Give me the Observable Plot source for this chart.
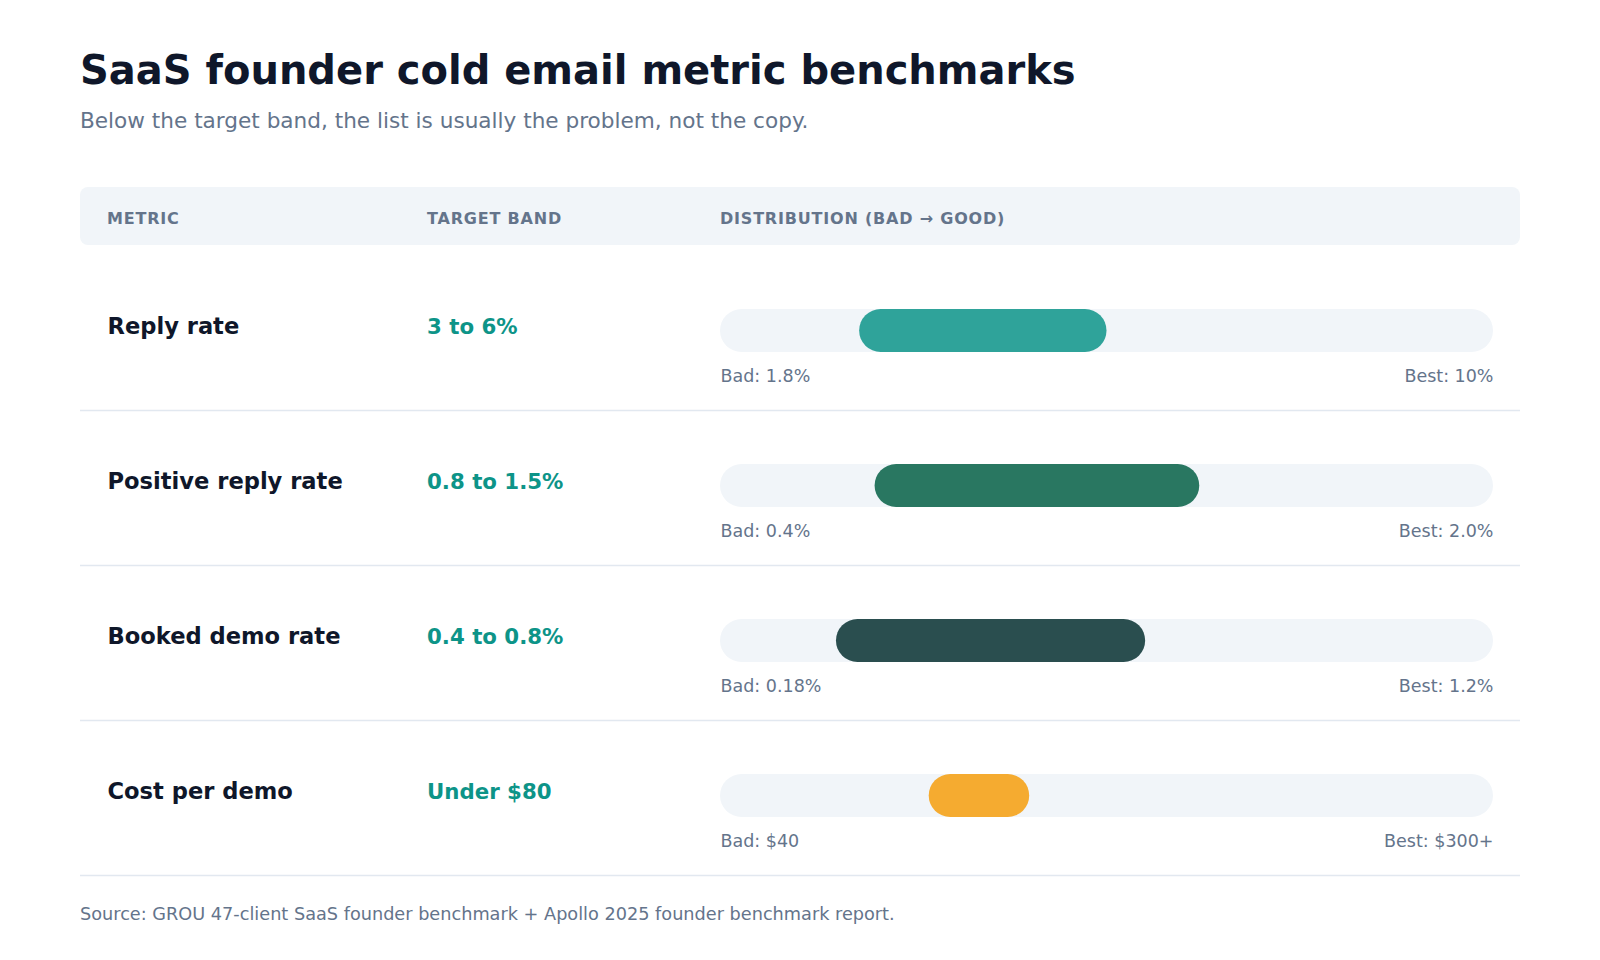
<!DOCTYPE html>
<html>
<head>
<meta charset="utf-8">
<script src="https://cdn.jsdelivr.net/npm/d3@7"></script>
<script src="https://cdn.jsdelivr.net/npm/@observablehq/plot@0.6"></script>
<style>
  html, body { margin: 0; padding: 0; background: #ffffff; }
  body { position: relative; width: 1600px; height: 960px; font-family: "DejaVu Sans", sans-serif; overflow: hidden; }
  .abs { position: absolute; line-height: 1; white-space: nowrap; }
  #title { left: 80px; top: 49.5px; font-size: 40px; font-weight: bold; color: #0f172a; }
  #subtitle { left: 80px; top: 110px; font-size: 21.6px; color: #64748b; }
  #header { position: absolute; left: 80px; top: 187px; width: 1440px; height: 58px; background: #f1f5f9; border-radius: 8px; }
  .hlabel { position: absolute; top: 23.5px; font-size: 16px; font-weight: bold; color: #64748b; letter-spacing: 0.8px; line-height: 1; white-space: nowrap; }
  #chart { position: absolute; left: 0; top: 255px; }
  #caption { left: 80px; top: 906px; font-size: 17.7px; color: #64748b; }
</style>
</head>
<body>
<div id="title" class="abs"></div>
<div id="subtitle" class="abs"></div>
<div id="header"></div>
<div id="chart"></div>
<div id="caption" class="abs"></div>
<script>
// ---- Data ----
const titleText = "SaaS founder cold email metric benchmarks";
const subtitleText = "Below the target band, the list is usually the problem, not the copy.";
const captionText = "Source: GROU 47-client SaaS founder benchmark + Apollo 2025 founder benchmark report.";
const headers = ["METRIC", "TARGET BAND", "DISTRIBUTION (BAD \u2192 GOOD)"];

const metrics = ["Reply rate", "Positive reply rate", "Booked demo rate", "Cost per demo"];
const targets = ["3 to 6%", "0.8 to 1.5%", "0.4 to 0.8%", "Under $80"];
// position of the target band along the bad -> good track (0 = bad end, 1 = best end)
const bandStart = [0.18, 0.20, 0.15, 0.27];
const bandEnd = [0.50, 0.62, 0.55, 0.40];
const trackMin = 0;
const trackMax = 1;
const badLabels = ["Bad: 1.8%", "Bad: 0.4%", "Bad: 0.18%", "Bad: $40"];
const bestLabels = ["Best: 10%", "Best: 2.0%", "Best: 1.2%", "Best: $300+"];
const barColors = ["#2fa39a", "#297761", "#2a4e4f", "#f5ab30"];

// ---- Text blocks ----
document.getElementById("title").textContent = titleText;
document.getElementById("subtitle").textContent = subtitleText;
document.getElementById("caption").textContent = captionText;
const headerEl = document.getElementById("header");
const headerX = [27, 347, 640];
headers.forEach((h, i) => {
  const s = document.createElement("span");
  s.className = "hlabel";
  s.style.left = headerX[i] + "px";
  s.textContent = h;
  headerEl.appendChild(s);
});

// ---- Table rows ----
const rows = metrics.map((m, i) => ({
  metric: m,
  target: targets[i],
  start: bandStart[i],
  end: bandEnd[i],
  lo: trackMin,
  hi: trackMax,
  bad: badLabels[i],
  best: bestLabels[i],
  color: barColors[i]
}));

const chart = Plot.plot({
  width: 1600,
  height: 622,
  marginLeft: 80,
  marginRight: 80,
  marginTop: 0,
  marginBottom: 2,
  x: {domain: [trackMin, trackMax], range: [720, 1493], axis: null},
  y: {domain: metrics, range: [0, 620], padding: 0, axis: null},
  style: {fontFamily: "DejaVu Sans", background: "transparent", overflow: "visible"},
  marks: [
    Plot.ruleY(rows, {y: "metric", dy: 77.5, stroke: "#e2e8f0", strokeWidth: 1.5}),
    Plot.barX(rows, {y: "metric", x1: "lo", x2: "hi", fill: "#f1f5f9", insetTop: 54, insetBottom: 58, rx: 21.5}),
    Plot.barX(rows, {y: "metric", x1: "start", x2: "end", fill: "color", insetTop: 54, insetBottom: 58, rx: 21.5}),
    Plot.text(rows, {y: "metric", text: "metric", frameAnchor: "left", textAnchor: "start", lineAnchor: "bottom", dx: 27, dy: 0.5, fontSize: 22.6, fontWeight: "bold", fill: "#0f172a"}),
    Plot.text(rows, {y: "metric", text: "target", frameAnchor: "left", textAnchor: "start", lineAnchor: "bottom", dx: 346.5, dy: 0.5, fontSize: 21.3, fontWeight: "bold", fill: "#0d9488"}),
    Plot.text(rows, {x: "lo", y: "metric", text: "bad", textAnchor: "start", lineAnchor: "bottom", dy: 49, fontSize: 17.5, fill: "#64748b"}),
    Plot.text(rows, {x: "hi", y: "metric", text: "best", textAnchor: "end", lineAnchor: "bottom", dy: 49, fontSize: 17.5, fill: "#64748b"})
  ]
});
document.getElementById("chart").appendChild(chart);
</script>
</body>
</html>
